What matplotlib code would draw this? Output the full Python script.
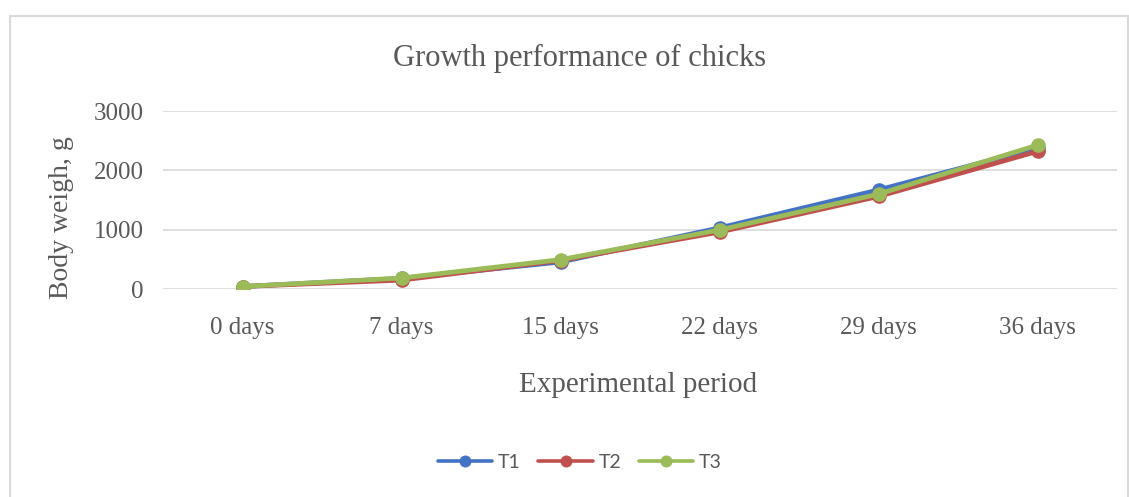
import matplotlib

matplotlib.use("Agg")
import matplotlib.pyplot as plt
from matplotlib.patches import Rectangle

categories = ["0 days", "7 days", "15 days", "22 days", "29 days", "36 days"]
t1 = [42, 180, 455, 1030, 1670, 2380]
t2 = [42, 150, 480, 960, 1560, 2320]
t3 = [42, 185, 495, 995, 1600, 2425]
series = [("T1", t1, "#4472C4"), ("T2", t2, "#C0504D"), ("T3", t3, "#9BBB59")]
yticks = [0, 1000, 2000, 3000]

W, H = 1129, 497
text_color = "#595959"
serif = ["Liberation Serif", "DejaVu Serif"]

fig = plt.figure(figsize=(W / 100, H / 100), dpi=100)
ax = fig.add_axes([163 / W, 1 - 289 / H, (1117 - 163) / W, (289 - 111) / H])

x = list(range(len(categories)))
for name, vals, color in series:
    ax.plot(x, vals, color=color, lw=3.4, marker="o", ms=9.5, label=name,
            solid_capstyle="round", solid_joinstyle="round")

ax.set_xlim(-0.5, len(categories) - 0.5)
ax.set_ylim(0, 3000)
ax.set_yticks(yticks)
ax.set_yticklabels([str(v) for v in yticks], family=serif, fontsize=18,
                   color=text_color)
ax.set_xticks(x)
ax.set_xticklabels(categories, family=serif, fontsize=18, color=text_color)
ax.tick_params(length=0)
ax.tick_params(axis="x", pad=20)
ax.tick_params(axis="y", pad=14)
ax.grid(axis="y", color="#D9D9D9", lw=1.2)
ax.set_axisbelow(True)
for s in ax.spines.values():
    s.set_visible(False)

fig.text(580 / W, 1 - 58 / H, "Growth performance of chicks", family=serif,
         fontsize=22, color=text_color, ha="center", va="center")
fig.text(62 / W, 1 - 218 / H, "Body weigh, g", family=serif, fontsize=20,
         color=text_color, ha="center", va="center", rotation=90)
fig.text(638 / W, 1 - 385 / H, "Experimental period", family=serif,
         fontsize=21, color=text_color, ha="center", va="center")

leg = fig.legend(loc="center", bbox_to_anchor=(580 / W, 1 - 462 / H), ncol=3,
                 frameon=False, prop={"family": "Lato", "size": 14},
                 handlelength=2.8, columnspacing=0.9, handletextpad=0.3,
                 markerscale=0.8)
for t in leg.get_texts():
    t.set_color(text_color)
for line in leg.get_lines():
    line.set_linewidth(2.6)

fig.patches.append(Rectangle((10 / W, -0.05), (1128 - 10) / W, 1.05 - 16 / H,
                             transform=fig.transFigure, fill=False,
                             edgecolor="#D9D9D9", lw=1.5))

fig.savefig("out.png", dpi=100)
